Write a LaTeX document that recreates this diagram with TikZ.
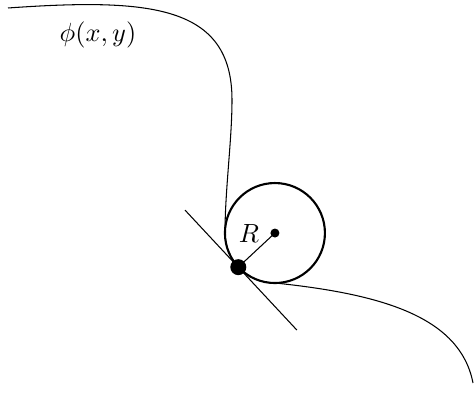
\documentclass[tikz,border=0pt]{standalone}
\usepackage{amsmath, amssymb}
\usepackage{tikz}

\begin{document}
\begin{tikzpicture}[scale=0.01337]
        \useasboundingbox (0, 0) rectangle (474, 406);

        % Osculating circle
        \coordinate (O) at (275, 173);
        \path (O) ++(223:50) coordinate (P);
        \draw[thick] (O) circle (50);

        % Level curve
        \draw (8, 398) .. controls (150, 408) and (232, 401) .. (232, 306)
              .. controls (232, 266) and (225, 216) .. (225, 173)
              arc (180:270:50)
              .. controls (380, 112) and (460, 90) .. (473, 23);
        \node (phi) at (98, 371) {$\phi(x,y)$};

        % Tangent line
        \path (P) ++(133:78) coordinate (T1);
        \path (P) ++(313:86) coordinate (T2);
        \draw (T1) -- (T2);

        % Radius
        \draw (P) -- (O);
        \fill (O) circle (4.5);
        \fill (P) circle (8);
        \node (R) at (249, 172) {$R$};
\end{tikzpicture}
\end{document}
